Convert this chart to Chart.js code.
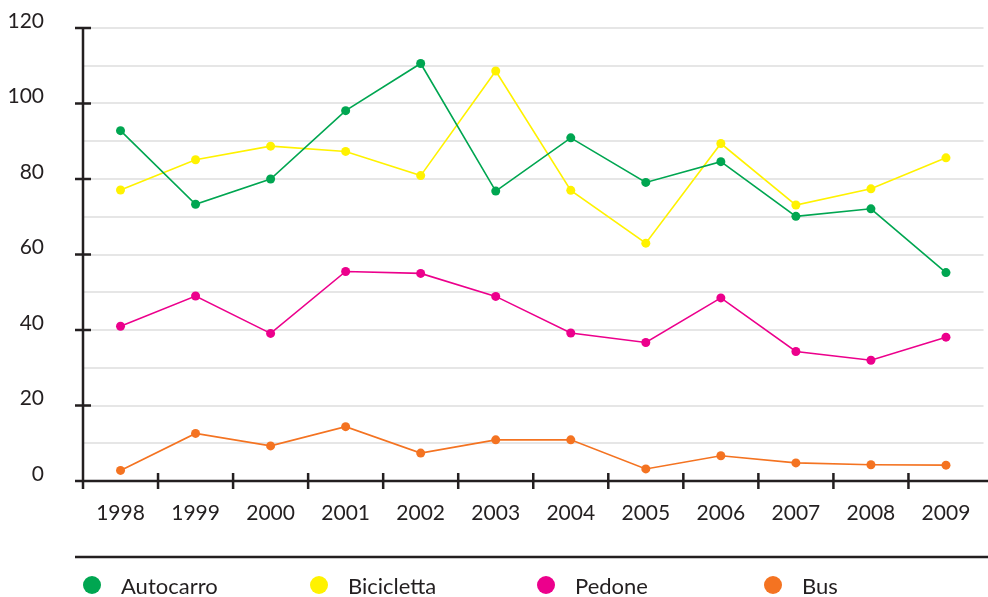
<!DOCTYPE html>
<html>
<head>
<meta charset="utf-8">
<script src="https://cdn.jsdelivr.net/npm/chart.js@4/dist/chart.umd.min.js"></script>
<style>
  html, body { margin: 0; padding: 0; background: #fff; }
  #wrap { width: 988px; height: 597px; position: relative; }
</style>
</head>
<body>
<div id="wrap"><canvas id="chart-line"></canvas></div>
<script>
var years = ['1998', '1999', '2000', '2001', '2002', '2003', '2004', '2005', '2006', '2007', '2008', '2009'];
var autocarro = [92.8, 73.3, 80.0, 98.1, 110.6, 76.8, 90.9, 79.1, 84.6, 70.1, 72.1, 55.2];
var bicicletta = [77.1, 85.1, 88.7, 87.3, 80.9, 108.6, 77.0, 63.0, 89.4, 73.1, 77.4, 85.6];
var pedone = [41.0, 49.0, 39.1, 55.5, 55.0, 48.9, 39.2, 36.7, 48.5, 34.3, 32.0, 38.1];
var bus = [2.8, 12.6, 9.3, 14.4, 7.4, 10.9, 10.9, 3.2, 6.7, 4.8, 4.3, 4.2];
var yTicks = [0, 20, 40, 60, 80, 100, 120];

var ink = '#231f20';

function serie(label, data, color) {
    return {
        label: label,
        data: data,
        borderColor: color,
        backgroundColor: color,
        borderWidth: 1.6,
        pointRadius: 4.5,
        pointBorderWidth: 0,
        pointBackgroundColor: color,
        tension: 0
    };
}

function noPad(s) {
    s.paddingTop = 0;
    s.paddingBottom = 0;
    s.paddingLeft = 0;
    s.paddingRight = 0;
}

// axes, tick marks, separator line and legend drawn on the canvas
var axesPlugin = {
    id: 'axes',
    afterDraw: function (chart) {
        var c = chart.ctx, x = chart.scales.x, y = chart.scales.y;
        var left = chart.chartArea.left, bottom = y.getPixelForValue(0);
        c.save();
        c.strokeStyle = ink;
        c.lineWidth = 2.5;
        c.beginPath();
        c.moveTo(left, y.getPixelForValue(120));
        c.lineTo(left, bottom + 8);
        c.moveTo(left - 8, bottom);
        c.lineTo(chart.width, bottom);
        yTicks.forEach(function (v) {
            var py = y.getPixelForValue(v);
            c.moveTo(left - 8, py);
            c.lineTo(left + 8, py);
        });
        for (var i = 1; i < years.length; i++) {
            var px = (x.getPixelForValue(i - 1) + x.getPixelForValue(i)) / 2;
            c.moveTo(px, bottom - 8);
            c.lineTo(px, bottom + 8);
        }
        c.moveTo(left - 8, 557);
        c.lineTo(chart.width, 557);
        c.stroke();

        c.font = '22px Lato';
        c.textBaseline = 'alphabetic';
        c.textAlign = 'left';
        chart.data.datasets.forEach(function (ds, i) {
            var cx = 92 + i * 227;
            c.fillStyle = ds.borderColor;
            c.beginPath();
            c.arc(cx, 585, 9, 0, Math.PI * 2);
            c.fill();
            c.fillStyle = ink;
            c.fillText(ds.label, cx + 29, 594);
        });
        c.restore();
    }
};

var ctxLine = document.getElementById('chart-line');
var chartLine = new Chart(ctxLine, {
    type: 'line',
    data: {
        labels: years,
        datasets: [
            serie('Autocarro', autocarro, '#00a651'),
            serie('Bicicletta', bicicletta, '#fff200'),
            serie('Pedone', pedone, '#ec008c'),
            serie('Bus', bus, '#f47321')
        ]
    },
    options: {
        responsive: true,
        maintainAspectRatio: false,
        animation: false,
        layout: { padding: { top: 28, right: 0, left: 0, bottom: 0 } },
        plugins: {
            legend: { display: false },
            tooltip: { enabled: false }
        },
        scales: {
            x: {
                type: 'category',
                offset: true,
                grid: { display: false, drawTicks: false },
                border: { display: false },
                ticks: {
                    color: ink,
                    font: { family: 'Lato', size: 21 },
                    padding: 20,
                    maxRotation: 0
                },
                afterFit: function (s) { s.height = 116; noPad(s); }
            },
            y: {
                min: 0,
                max: 120,
                grid: { color: '#e6e6e6', lineWidth: 2, drawTicks: false },
                border: { display: false },
                ticks: {
                    stepSize: 10,
                    color: ink,
                    font: { family: 'Lato', size: 21 },
                    padding: 39,
                    labelOffset: -7,
                    callback: function (v) { return v % 20 === 0 ? v : ''; }
                },
                afterFit: function (s) { s.width = 83; noPad(s); }
            }
        }
    },
    plugins: [axesPlugin]
});
</script>
</body>
</html>
